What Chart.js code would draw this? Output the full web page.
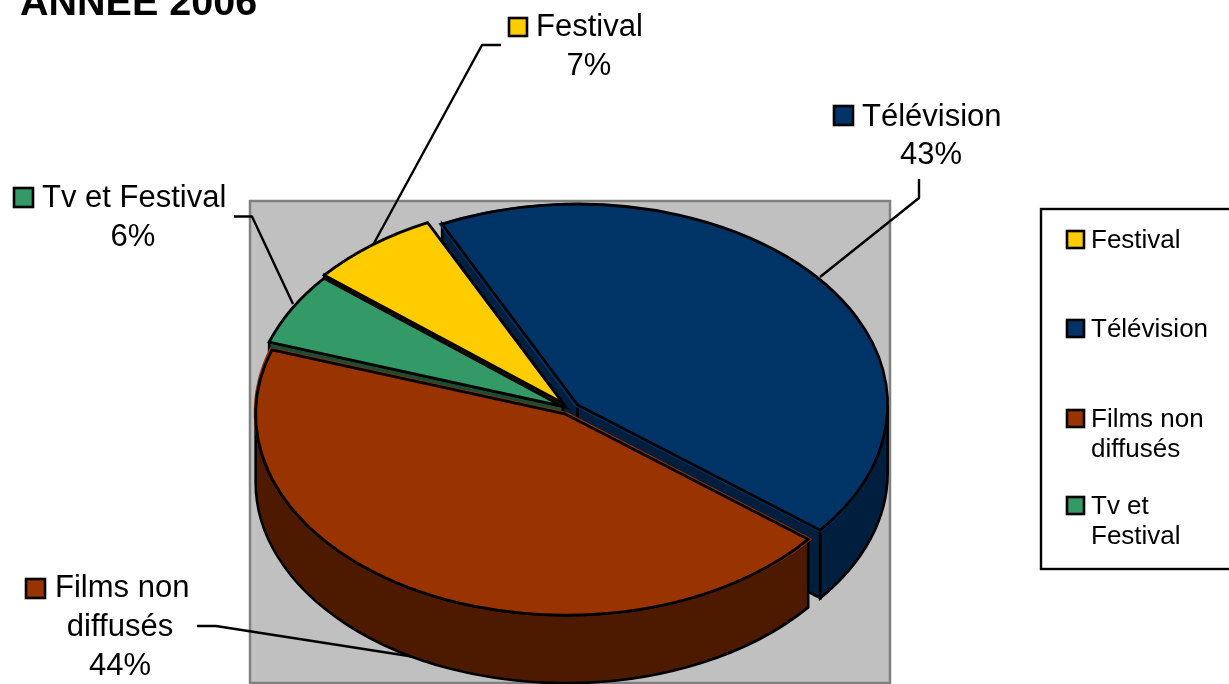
<!DOCTYPE html>
<html><head><meta charset="utf-8">
<style>html,body{margin:0;padding:0;background:#fff;overflow:hidden}canvas{display:block}</style>
<script src="https://cdn.jsdelivr.net/npm/chart.js@4"></script>
</head><body><canvas id="c" width="1229" height="684"></canvas>
<script>
const categories = ['Festival', 'Télévision', 'Films non diffusés', 'Tv et Festival'];
const values = [6.8, 42.9, 44.49, 5.81];
const sliceColors = ['#FFCC00', '#003366', '#993300', '#339966'];
const wallColors = ['#806600', '#001F3F', '#4D1A00', '#1A4D33'];
const sliceOffsets = [28, 25, 22, 20];
const titleText = 'ANNÉE 2006';
const legendLines = [['Festival'], ['Télévision'], ['Films non', 'diffusés'], ['Tv et', 'Festival']];
const legendRows = [248, 337, 427, 514];
const labelLines = [['Festival'], ['Télévision'], ['Films non', 'diffusés'], ['Tv et Festival']];

const FONT = '"Liberation Sans", Arial, sans-serif';
const CX = 570, CY = 409, RX = 310, RY = 201, DEPTH = 68;

// per-label layout: swatch box, first-line x, centred x for the rest, baselines
const labelLayout = [
  {sw:[509,18,18,18], tx:536, cx:589, ys:[36,75]},
  {sw:[834,106,19,19], tx:862, cx:931, ys:[126,164]},
  {sw:[26,579,19,19], tx:55, cx:120, ys:[597,636,675]},
  {sw:[14,188,19,19], tx:42, cx:133, ys:[207,246]}
];
const callouts = [
  [[501,45],[482,45],[373,245]],
  [[919,179],[919,198],[820,277]],
  [[197,626],[216,626],[415,657]],
  [[234,216.5],[252,216.5],[293,304]]
];

function geom(el){
  const sx = RX/el.outerRadius, sy = RY/el.outerRadius;
  const o = (el.options.offset||0)/4, h = (el.startAngle+el.endAngle)/2;
  const fix = 1 - Math.sin(Math.min(Math.PI, el.circumference));
  const t = o*(1+fix);
  return {x:CX+Math.cos(h)*t*sx, y:CY+Math.sin(h)*t*sy, a:el.startAngle, b:el.endAngle};
}
function pt(g,a,d){return [g.x+RX*Math.cos(a), g.y+RY*Math.sin(a)+(d||0)];}

function drawWalls(ctx, arcs){
  const order = [1,0,3,2];
  ctx.lineWidth = 2.6; ctx.strokeStyle = '#000'; ctx.lineJoin = 'miter';
  order.forEach(i=>{
    const g = geom(arcs[i]);
    ctx.fillStyle = wallColors[i];
    const quad = (a)=>{
      const p = pt(g,a);
      ctx.beginPath();
      ctx.moveTo(g.x,g.y); ctx.lineTo(p[0],p[1]); ctx.lineTo(p[0],p[1]+DEPTH);
      ctx.lineTo(g.x,g.y+DEPTH); ctx.closePath(); ctx.fill(); ctx.stroke();
    };
    if (-Math.cos(g.a) > 0) quad(g.a);
    if (Math.cos(g.b) > 0) quad(g.b);
    // outer wall: the part of the rim that faces the viewer
    for (const k of [0, 2*Math.PI]) {
      const a1 = Math.max(g.a, k), b1 = Math.min(g.b, k+Math.PI);
      if (b1 > a1) {
        ctx.beginPath();
        ctx.ellipse(g.x,g.y,RX,RY,0,a1,b1,false);
        ctx.ellipse(g.x,g.y+DEPTH,RX,RY,0,b1,a1,true);
        ctx.closePath(); ctx.fill(); ctx.stroke();
      }
    }
  });
}
function swatch(ctx,x,y,w,h,color){
  ctx.fillStyle=color; ctx.fillRect(x,y,w,h);
  ctx.strokeStyle='#000'; ctx.lineWidth=2.6; ctx.strokeRect(x,y,w,h);
}

const pie3d = {
  id:'pie3d',
  beforeDraw(chart){
    const ctx = chart.ctx;
    ctx.save();
    ctx.fillStyle='#fff'; ctx.fillRect(0,0,chart.width,chart.height);
    ctx.fillStyle='#C0C0C0'; ctx.fillRect(250,201,640,482);
    ctx.strokeStyle='#808080'; ctx.lineWidth=2.5; ctx.strokeRect(250,201,640,482);
    ctx.strokeStyle='#000'; ctx.lineWidth=2.4; ctx.lineJoin='round';
    callouts.forEach(c=>{
      ctx.beginPath(); c.forEach((p,i)=> i?ctx.lineTo(p[0],p[1]):ctx.moveTo(p[0],p[1])); ctx.stroke();
    });
    ctx.restore();
  },
  beforeDatasetsDraw(chart){
    const ctx = chart.ctx, arcs = chart.getDatasetMeta(0).data;
    ctx.save();
    drawWalls(ctx, arcs);
    ctx.restore();
    const el = arcs[0];
    ctx.save();
    ctx.translate(CX,CY);
    ctx.scale(RX/el.outerRadius, RY/el.outerRadius);
    ctx.translate(-el.x,-el.y);
  },
  afterDatasetsDraw(chart){
    const ctx = chart.ctx, arcs = chart.getDatasetMeta(0).data;
    ctx.restore();
    ctx.save();
    ctx.strokeStyle='#000'; ctx.lineWidth=2.8; ctx.lineJoin='miter';
    arcs.forEach(el=>{
      const g = geom(el);
      ctx.beginPath(); ctx.moveTo(g.x,g.y);
      ctx.ellipse(g.x,g.y,RX,RY,0,g.a,g.b,false);
      ctx.closePath(); ctx.stroke();
    });
    ctx.restore();
  },
  afterDraw(chart){
    const ctx = chart.ctx;
    ctx.save();
    ctx.textBaseline='alphabetic'; ctx.textAlign='left'; ctx.fillStyle='#000';
    ctx.font='bold 39.5px '+FONT;
    ctx.fillText(titleText,20,15);
    // data labels
    const vals = chart.data.datasets[0].data;
    labelLayout.forEach((L,i)=>{
      swatch(ctx,L.sw[0],L.sw[1],L.sw[2],L.sw[3],sliceColors[i]);
      ctx.fillStyle='#000'; ctx.font='31px '+FONT;
      const lines = labelLines[i].concat([Math.round(vals[i])+'%']);
      lines.forEach((t,j)=>{
        if (j===0){ctx.textAlign='left'; ctx.fillText(t,L.tx,L.ys[0]);}
        else {ctx.textAlign='center'; ctx.fillText(t,L.cx,L.ys[j]);}
      });
    });
    // legend
    ctx.fillStyle='#fff'; ctx.fillRect(1041,209,200,360);
    ctx.strokeStyle='#000'; ctx.lineWidth=2.4; ctx.strokeRect(1041,209,200,360);
    ctx.textAlign='left'; ctx.font='26px '+FONT;
    legendLines.forEach((ls,i)=>{
      swatch(ctx,1067,legendRows[i]-17,17,17,sliceColors[i]);
      ctx.fillStyle='#000';
      ls.forEach((t,j)=>ctx.fillText(t,1091,legendRows[i]+j*29.5));
    });
    ctx.restore();
  }
};

new Chart(document.getElementById('c'),{
  type:'pie',
  data:{labels:categories,datasets:[{
    data:values, backgroundColor:sliceColors, offset:sliceOffsets,
    borderWidth:0, hoverOffset:0, clip:false, rotation:-50.4
  }]},
  options:{
    responsive:false, animation:false, radius:310,
    layout:{padding:0},
    events:[],
    plugins:{legend:{display:false},title:{display:false},tooltip:{enabled:false}}
  },
  plugins:[pie3d]
});
</script></body></html>
